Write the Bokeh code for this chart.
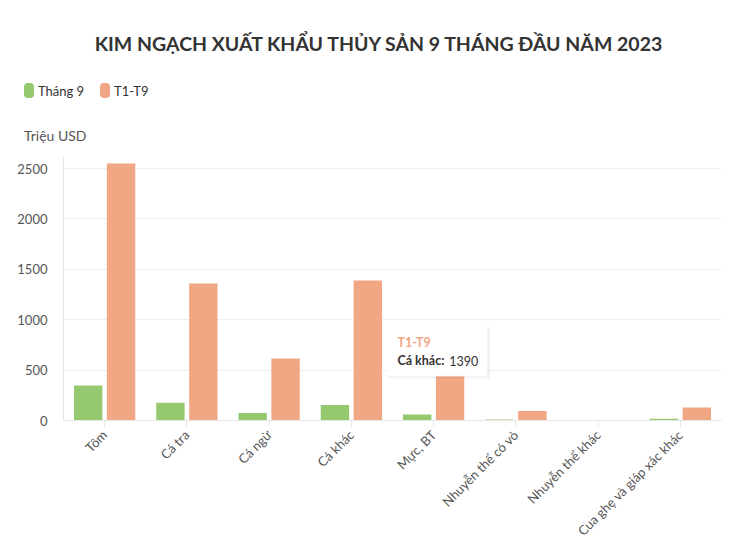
from math import pi
from bokeh.plotting import figure
from bokeh.layouts import column
from bokeh.models import (FactorRange, Range1d, ColumnDataSource, Div,
                          Label, BoxAnnotation, FixedTicker)
from bokeh.transform import dodge
from bokeh.embed import file_html
from bokeh.resources import INLINE

categories = ["Tôm", "Cá tra", "Cá ngừ", "Cá khác", "Mực, BT",
              "Nhuyễn thể có vỏ", "Nhuyễn thể khác", "Cua ghẹ và giáp xác khác"]
thang9 = [347, 175, 75, 155, 60, 10, 2, 17]
t1_t9 = [2550, 1360, 615, 1390, 470, 95, 3, 130]
y_ticks = [0, 500, 1000, 1500, 2000, 2500]
series_names = ["Tháng 9", "T1-T9"]
title_text = "KIM NGẠCH XUẤT KHẨU THỦY SẢN 9 THÁNG ĐẦU NĂM 2023"
unit_text = "Triệu USD"

GREEN = "#95c96f"
ORANGE = "#f2a784"
FONT = "Lato"
W = 749
HEAD_H = 150

# ---------- header: title, legend, unit (HTML text) ----------
def swatch(left, color):
    return (f'<span style="position:absolute;left:{left}px;top:83px;width:10px;height:15px;'
            f'border-radius:4px;background:{color};"></span>')

def legend_label(left, text):
    return (f'<span style="position:absolute;left:{left}px;top:82px;font-size:13px;'
            f'line-height:18px;color:#333333;white-space:nowrap;">{text}</span>')

header_html = (
    f'<div style="position:relative;width:{W}px;height:{HEAD_H}px;'
    f'font-family:{FONT},sans-serif;margin:0;padding:0;">'
    f'<div style="position:absolute;left:4px;top:31px;width:{W}px;text-align:center;'
    f'font-size:19.5px;line-height:26px;font-weight:bold;color:#333333;white-space:nowrap;">'
    f'{title_text}</div>'
    + swatch(24, GREEN) + legend_label(38, series_names[0])
    + swatch(100, ORANGE) + legend_label(114, series_names[1])
    + f'<span style="position:absolute;left:24px;top:127px;font-size:14px;line-height:18px;'
      f'color:#555555;white-space:nowrap;">{unit_text}</span>'
    '</div>'
)
h = Div(text=header_html, width=W, height=HEAD_H, margin=0)

# ---------- main chart ----------
src = ColumnDataSource(dict(cat=categories, a=thang9, b=t1_t9))

p = figure(width=W, height=551 - HEAD_H, x_range=FactorRange(*categories),
           y_range=Range1d(0, 2620), output_backend="svg", toolbar_location=None,
           min_border_left=63, min_border_right=28, min_border_top=6,
           min_border_bottom=131, outline_line_color=None, margin=0)

r1 = p.vbar(x=dodge("cat", -0.2, range=p.x_range), top="a", width=0.345,
            source=src, fill_color=GREEN, line_color=None)
r2 = p.vbar(x=dodge("cat", 0.2, range=p.x_range), top="b", width=0.345,
            source=src, fill_color=ORANGE, line_color=None)

p.yaxis.ticker = FixedTicker(ticks=y_ticks)
p.yaxis.axis_line_color = "#e6e6e6"
p.yaxis.major_tick_line_color = None
p.yaxis.minor_tick_line_color = None
p.yaxis.major_label_text_font = FONT
p.yaxis.major_label_text_font_size = "13px"
p.yaxis.major_label_text_color = "#555555"
p.yaxis.major_label_standoff = 10

p.xaxis.axis_line_color = "#e6e6e6"
p.xaxis.major_tick_line_color = "#e6e6e6"
p.xaxis.major_tick_out = 6
p.xaxis.major_tick_in = 0
p.xaxis.major_label_orientation = pi / 4
p.xaxis.major_label_text_font = FONT
p.xaxis.major_label_text_font_size = "13px"
p.xaxis.major_label_text_color = "#555555"
p.xaxis.major_label_standoff = 6

p.xgrid.grid_line_color = None
p.ygrid.grid_line_color = "#eeeeee"
p.ygrid.ticker = FixedTicker(ticks=y_ticks)

# tooltip (hovered point: T1-T9 of "Cá khác")
hov = categories.index("Cá khác")
hx = hov + 0.5
p.add_layout(BoxAnnotation(left=hx + 0.45, right=hx + 1.68, top=925, bottom=420,
                           fill_color="#000000", fill_alpha=0.06, line_color=None))
p.add_layout(BoxAnnotation(left=hx + 0.43, right=hx + 1.65, top=935, bottom=440,
                           fill_color="#ffffff", fill_alpha=0.97,
                           line_color="#ffffff", line_width=1))
p.add_layout(Label(x=hx + 0.56, y=775, text=series_names[1], text_font=FONT,
                   text_font_size="12.5px", text_font_style="bold", text_color=ORANGE,
                   text_baseline="middle"))
p.add_layout(Label(x=hx + 0.56, y=595, text=categories[hov] + ":", text_font=FONT,
                   text_font_size="12.5px", text_font_style="bold", text_color="#333333",
                   text_baseline="middle"))
p.add_layout(Label(x=hx + 1.19, y=595, text=str(t1_t9[hov]), text_font=FONT,
                   text_font_size="12.5px", text_color="#333333",
                   text_baseline="middle"))

layout = column(h, p, spacing=0)
open("out.html", "w").write(file_html(layout, INLINE))
